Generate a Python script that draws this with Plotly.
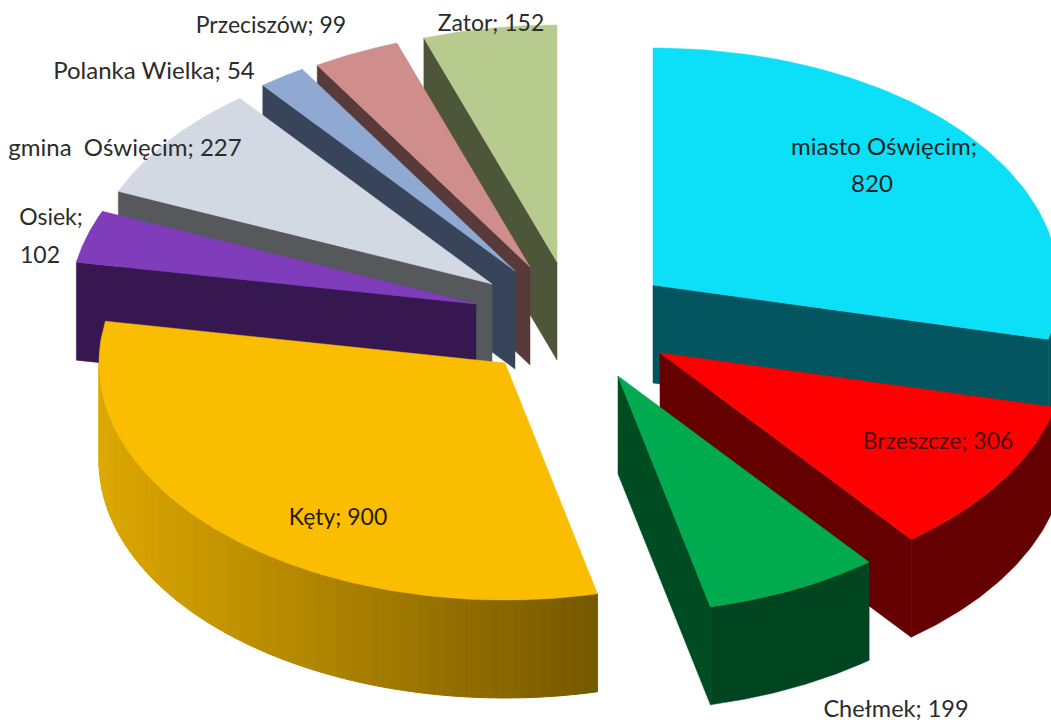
import numpy as np
import plotly.graph_objects as go

# ---- data ----
categories = ["miasto Oświęcim", "Brzeszcze", "Chełmek", "Kęty", "Osiek",
              "gmina  Oświęcim", "Polanka Wielka", "Przeciszów", "Zator"]
values = [820, 306, 199, 900, 102, 227, 54, 99, 152]

# ---- styles ----
top_colors = ["#0BE0F8", "#FF0000", "#00AB4F", "#FBBD00", "#7F3CBB",
              "#D3D9E2", "#8FA9D3", "#CF8D8C", "#B8CB8E"]
face_colors = ["#03555F", "#640000", "#004C22", "#7A5C00", "#36174F",
               "#56595C", "#38445A", "#583A3A", "#4D5638"]
rim_colors = [("#03555F", "#03555F"), ("#640000", "#640000"), ("#004520", "#004520"),
              ("#DDA800", "#755800"), ("#36174F", "#36174F"), ("#56595C", "#56595C"),
              ("#38445A", "#38445A"), ("#583A3A", "#583A3A"), ("#4D5638", "#4D5638")]

# ---- layout of the exploded 3-D pie ----
width, height = 1051, 724
center_x, center_y = 653.0, 285.0
radius_x, radius_y = 406.0, 237.0
depth = 98.0
explode_x = [0, 7, -35, -148, -177, -161, -138, -123, -96]
explode_y = [0, 68, 91, 78, 19, -1, -14, -18, -23]
draw_order = [0, 1, 2, 8, 7, 6, 5, 4, 3]

# label lines: (slice index, text kind, x, y, colour, font size)
label_lines = [
    (0, "name;", 884, 149, "#1F1F1F", 24),
    (0, "value", 872, 186, "#1F1F1F", 24),
    (1, "both", 938, 443, "#4A0000", 23),
    (2, "both", 896, 711, "#2B2B2B", 23.5),
    (3, "both", 338, 519, "#241C00", 23),
    (4, "name;", 51, 219, "#2B2B2B", 23),
    (4, "value", 40, 257, "#2B2B2B", 23),
    (5, "both", 125, 150, "#2B2B2B", 24),
    (6, "both", 154, 73, "#2B2B2B", 24),
    (7, "both", 271, 27, "#2B2B2B", 23),
    (8, "both", 491, 25, "#2B2B2B", 23),
]

total = sum(values)
edges = np.cumsum([0] + values) / total * 2 * np.pi


def rim(i, theta):
    cx = center_x + explode_x[i]
    cy = center_y + explode_y[i]
    return cx + radius_x * np.sin(theta), cy - radius_y * np.cos(theta)


def apex(i):
    return center_x + explode_x[i], center_y + explode_y[i]


def hex_mix(a, b, t):
    ca = [int(a[k:k + 2], 16) for k in (1, 3, 5)]
    cb = [int(b[k:k + 2], 16) for k in (1, 3, 5)]
    return "rgb({},{},{})".format(*[round(p + (q - p) * t) for p, q in zip(ca, cb)])


fig = go.Figure()


def poly(xs, ys, color, line=0.0):
    xs = list(xs)
    ys = list(ys)
    fig.add_trace(go.Scatter(
        x=xs + xs[:1], y=ys + ys[:1], mode="lines", fill="toself", fillcolor=color,
        line=dict(color=color, width=line), hoverinfo="skip", showlegend=False))


for i in draw_order:
    t1, t2 = edges[i], edges[i + 1]
    ax, ay = apex(i)
    # visible cut face
    if t2 < np.pi or t1 > np.pi:
        t = t2 if t2 < np.pi else t1
        rx, ry = rim(i, t)
        poly([ax, rx, rx, ax], [ay, ry, ry + depth, ay + depth], face_colors[i], 0.5)
    # visible outer wall (front half only)
    lo, hi = max(t1, np.pi / 2), min(t2, 1.5 * np.pi)
    if hi > lo:
        c_left, c_right = rim_colors[i]
        if c_left == c_right:
            th = np.linspace(lo, hi, 60)
            xs, ys = rim(i, th)
            poly(np.r_[xs, xs[::-1]], np.r_[ys, ys[::-1] + depth], c_left, 0.5)
        else:
            th = np.linspace(lo, hi, 61)
            xs, ys = rim(i, th)
            xmin, xmax = xs.min(), xs.max()
            for k in range(len(th) - 1):
                mix = ((xs[k] + xs[k + 1]) / 2 - xmin) / (xmax - xmin)
                poly([xs[k], xs[k + 1], xs[k + 1], xs[k]],
                     [ys[k], ys[k + 1], ys[k + 1] + depth, ys[k] + depth],
                     hex_mix(c_left, c_right, mix), 1)
    # top surface
    th = np.linspace(t1, t2, 80)
    xs, ys = rim(i, th)
    poly(np.r_[ax, xs], np.r_[ay, ys], top_colors[i], 0.5)

# labels
texts, tx, ty, tc, ts = [], [], [], [], []
for idx, kind, x, y, col, size in label_lines:
    if kind == "name;":
        texts.append(f"{categories[idx]};")
    elif kind == "value":
        texts.append(str(values[idx]))
    else:
        texts.append(f"{categories[idx]}; {values[idx]}")
    tx.append(x)
    ty.append(y)
    tc.append(col)
    ts.append(size)
fig.add_trace(go.Scatter(
    x=tx, y=ty, mode="text", text=[t.replace("  ", "\u00a0 ") for t in texts],
    textposition="middle center", cliponaxis=False,
    textfont=dict(family="Lato", size=ts, color=tc),
    hoverinfo="skip", showlegend=False))

fig.update_layout(
    width=width, height=height, margin=dict(l=0, r=0, t=0, b=0),
    paper_bgcolor="white", plot_bgcolor="white", showlegend=False,
    xaxis=dict(range=[0, width], visible=False, fixedrange=True),
    yaxis=dict(range=[height, 0], visible=False, fixedrange=True),
)
fig.write_html("out.html", config={"displayModeBar": False},
               post_script="document.body.style.margin='0';document.body.style.overflow='hidden';")
